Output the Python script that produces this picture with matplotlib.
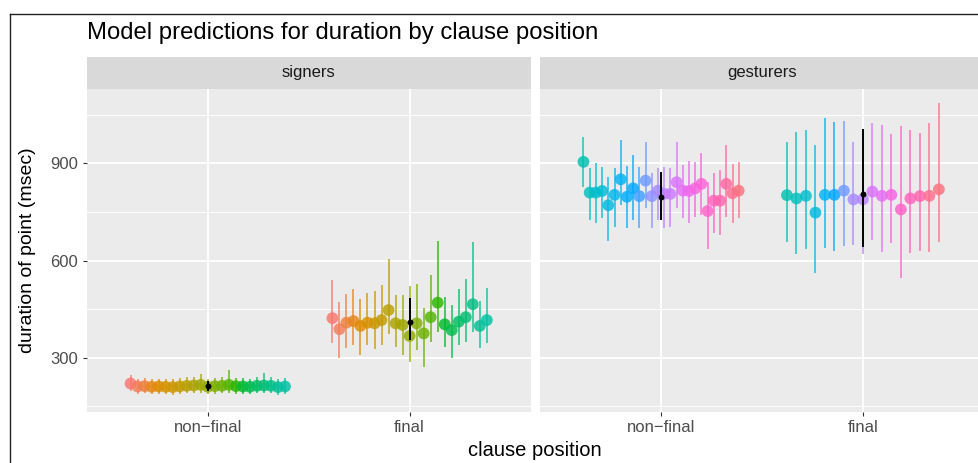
import numpy as np
import matplotlib
matplotlib.use("Agg")
import matplotlib.pyplot as plt
from matplotlib.patches import Rectangle
from matplotlib.lines import Line2D

plt.rcParams['font.family'] = ['Liberation Sans', 'DejaVu Sans']

# ---------------- data (msec) ----------------
positions = ["non\u2212final", "final"]
groups = ["signers", "gesturers"]

# signers, non-final (23 participants)
sig_nf_est = [220, 211, 212, 210, 211, 210, 209, 211, 213, 214, 216, 210,
              212, 213, 216, 212, 211, 210, 213, 214, 213, 209, 211]
sig_nf_lo = [198, 188, 190, 187, 189, 188, 186, 189, 191, 191, 192, 187,
             189, 190, 192, 189, 188, 187, 190, 191, 190, 186, 189]
sig_nf_hi = [245, 234, 236, 233, 235, 234, 235, 238, 240, 240, 248, 233,
             237, 240, 262, 237, 236, 235, 240, 252, 240, 233, 236]
# signers, final (23 participants)
sig_f_est = [422, 388, 408, 413, 398, 408, 406, 416, 447, 406, 401, 367,
             406, 375, 425, 470, 403, 385, 411, 425, 465, 398, 416]
sig_f_lo = [346, 298, 331, 339, 308, 339, 326, 339, 372, 334, 308, 288,
            323, 272, 349, 380, 334, 298, 339, 349, 380, 329, 344]
sig_f_hi = [540, 473, 497, 511, 480, 501, 506, 525, 604, 494, 494, 520,
            527, 453, 555, 661, 488, 463, 511, 543, 656, 476, 516]
# gesturers, non-final (26 participants)
ges_nf_est = [905, 810, 810, 815, 771, 803, 851, 797, 823, 799, 847, 799, 816,
              806, 806, 842, 816, 815, 823, 837, 753, 785, 785, 837, 808, 816]
ges_nf_lo = [828, 725, 715, 731, 659, 705, 771, 700, 725, 700, 762, 700, 725,
             700, 705, 762, 731, 715, 736, 741, 635, 684, 679, 736, 717, 731]
ges_nf_hi = [981, 885, 900, 890, 859, 885, 972, 892, 926, 890, 967, 870, 885,
             890, 885, 965, 895, 909, 905, 933, 844, 870, 880, 957, 898, 905]
# gesturers, final (17 participants, subset of the 26)
ges_f_ids = [0, 1, 2, 4, 6, 8, 10, 12, 13, 15, 16, 18, 20, 21, 22, 24, 25]
ges_f_est = [802, 792, 800, 748, 803, 803, 816, 789, 789, 813, 800, 803, 758,
             792, 799, 800, 820]
ges_f_lo = [658, 619, 635, 561, 638, 631, 645, 648, 619, 664, 627, 653, 545,
            622, 631, 627, 658]
ges_f_hi = [967, 996, 1003, 957, 1042, 1027, 1032, 965, 983, 1024, 1019, 991,
            1016, 1003, 993, 1026, 1086]

# group means
mean_est = {"signers": [212, 411], "gesturers": [797, 805]}
mean_lo = {"signers": [197, 355], "gesturers": [725, 643]}
mean_hi = {"signers": [228, 484], "gesturers": [875, 1006]}


# ---------------- ggplot-like hue palette ----------------
def hue_pal(n, h0=15, c=100, l=65):
    hues = np.linspace(h0, h0 + 360, n + 1)[:-1]
    Xn, Yn, Zn = 95.047, 100.0, 108.883
    un = 4 * Xn / (Xn + 15 * Yn + 3 * Zn)
    vn = 9 * Yn / (Xn + 15 * Yn + 3 * Zn)
    out = []
    for h in hues:
        U = c * np.cos(np.radians(h))
        V = c * np.sin(np.radians(h))
        Y = Yn * ((l + 16) / 116) ** 3
        up = U / (13 * l) + un
        vp = V / (13 * l) + vn
        X = 9.0 * Y * up / (4 * vp)
        Z = -X / 3 - 5 * Y + 3 * Y / vp
        xyz = np.array([X, Y, Z]) / 100
        M = np.array([[3.2404542, -1.5371385, -0.4985314],
                      [-0.9692660, 1.8760108, 0.0415560],
                      [0.0556434, -0.2040259, 1.0572252]])
        rgb = M @ xyz
        rgb = np.where(rgb <= 0.0031308, 12.92 * rgb,
                       1.055 * np.abs(rgb) ** (1 / 2.4) - 0.055)
        out.append(np.clip(rgb, 0, 1))
    return out


n_sig = len(sig_nf_est)
n_ges = len(ges_nf_est)
pal = hue_pal(n_sig + n_ges)
sig_cols = pal[:n_sig]
ges_cols = pal[n_sig:]

clusters = {
    "signers": [
        (sig_nf_est, sig_nf_lo, sig_nf_hi, sig_cols),
        (sig_f_est, sig_f_lo, sig_f_hi, sig_cols),
    ],
    "gesturers": [
        (ges_nf_est, ges_nf_lo, ges_nf_hi, ges_cols),
        (ges_f_est, ges_f_lo, ges_f_hi, [ges_cols[i] for i in ges_f_ids]),
    ],
}

# ---------------- figure ----------------
W, H = 979, 463
fig = plt.figure(figsize=(W / 100, H / 100), dpi=100)

panel_top, panel_bot = 88.7, 411.7
strip_top = 57.3
panel_w = 444
lefts = [86.7, 540.0]

for gi, (g, x0) in enumerate(zip(groups, lefts)):
    ax = fig.add_axes([x0 / W, 1 - panel_bot / H, panel_w / W,
                       (panel_bot - panel_top) / H])
    ax.set_facecolor("#EBEBEB")
    for s in ax.spines.values():
        s.set_visible(False)
    ax.set_xlim(0.4, 2.6)
    ax.set_ylim(133, 1131)
    ax.set_yticks([300, 600, 900])
    ax.set_yticks([150, 450, 750, 1050], minor=True)
    ax.set_xticks([1, 2])
    ax.set_xticklabels(positions)
    ax.grid(True, which="major", color="white", lw=1.3)
    ax.grid(True, which="minor", axis="y", color="white", lw=0.7)
    ax.set_axisbelow(True)
    ax.tick_params(axis="both", which="major", length=3, width=0.8,
                   color="#333333", labelcolor="#4D4D4D", labelsize=12, pad=3)
    ax.tick_params(axis="both", which="minor", length=0)
    if gi == 1:
        ax.tick_params(axis="y", which="major", length=0, labelleft=False)

    for xi, (est, lo, hi, cols) in enumerate(clusters[g]):
        n = len(est)
        xs = (xi + 1) + (np.arange(n) - (n - 1) / 2) * (0.8 / n)
        rgba_line = [(*col, 0.7) for col in cols]
        rgba_pt = [(*col, 0.82) for col in cols]
        ax.vlines(xs, lo, hi, colors=rgba_line, lw=1.4, zorder=2)
        ax.scatter(xs, est, s=72, c=rgba_pt, linewidths=0, zorder=3)
    ax.vlines([1, 2], mean_lo[g], mean_hi[g], colors="black", lw=1.4, zorder=4)
    ax.scatter([1, 2], mean_est[g], s=18, c="black", linewidths=0, zorder=5)

    # facet strip
    fig.patches.append(Rectangle((x0 / W, 1 - panel_top / H), panel_w / W,
                                 (panel_top - strip_top) / H,
                                 transform=fig.transFigure,
                                 facecolor="#D9D9D9", edgecolor="none"))
    fig.text((x0 + panel_w / 2) / W, 1 - (strip_top + panel_top) / 2 / H, g,
             ha="center", va="center", fontsize=12, color="#1A1A1A")

fig.text(87 / W, 1 - 39 / H, "Model predictions for duration by clause position",
         fontsize=17.2, color="black", ha="left", va="baseline")
fig.text(28 / W, 1 - (panel_top + panel_bot) / 2 / H, "duration of point (msec)",
         rotation=90, ha="center", va="center", fontsize=14)
fig.text(535 / W, 1 - 451 / H, "clause position", ha="center", va="center",
         fontsize=14.5)

# outer frame (cropped box)
fig.lines.append(Line2D([9.5 / W, 1.0], [1 - 14 / H, 1 - 14 / H],
                        transform=fig.transFigure, color="#222222", lw=1.0))
fig.lines.append(Line2D([9.5 / W, 9.5 / W], [0, 1 - 14 / H],
                        transform=fig.transFigure, color="#222222", lw=1.0))

fig.savefig("out.png", dpi=100, facecolor="white")
